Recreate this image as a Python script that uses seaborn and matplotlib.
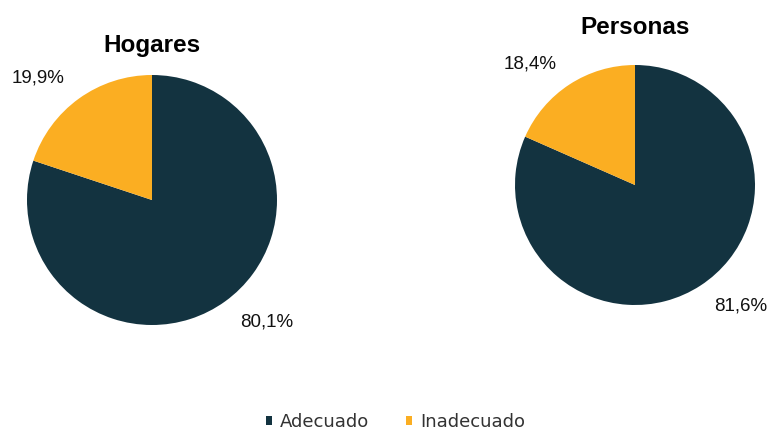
import matplotlib
matplotlib.use("Agg")
import matplotlib.pyplot as plt
import seaborn as sns

categories = ["Adecuado", "Inadecuado"]
titles = ["Hogares", "Personas"]
hogares = [80.1, 19.9]
personas = [81.6, 18.4]
colors = ["#133340", "#FBAE22"]

sns.set_theme(style="white")
plt.rcParams['font.family'] = ['Liberation Sans', 'DejaVu Sans']

fig = plt.figure(figsize=(7.68, 4.30), dpi=100)
W, H = 768, 430
ax1 = fig.add_axes([27 / W, (H - 325) / H, 250 / W, 250 / H])
ax2 = fig.add_axes([515 / W, (H - 305) / H, 240 / W, 240 / H])

def fmt(v):
    return f"{v:.1f}%".replace(".", ",")

wedges = None
for ax, vals, title, ty in [(ax1, hogares, titles[0], 1.12), (ax2, personas, titles[1], 1.158)]:
    w, t = ax.pie(vals, colors=colors, startangle=90, counterclock=False,
                  labels=[fmt(v) for v in vals], labeldistance=1.2,
                  wedgeprops=dict(linewidth=0),
                  textprops=dict(fontsize=13.5, color="#111111"))
    ax.set_xlim(-1, 1)
    ax.set_ylim(-1, 1)
    ax.set_aspect("equal")
    ax.axis("off")
    ax.text(0.5, ty, title, transform=ax.transAxes, ha="center", va="center",
            fontsize=17.5, fontweight="bold", color="black")
    if wedges is None:
        wedges = w

fig.legend(wedges, categories, loc="center", bbox_to_anchor=(0.515, 1 - 422 / H), ncol=2,
           frameon=False, handlelength=0.33, handleheight=0.33, columnspacing=2.0,
           handletextpad=0.45, prop=dict(family="DejaVu Sans", size=13), labelcolor="#333333")

fig.savefig("out.png", dpi=100, facecolor="white")
